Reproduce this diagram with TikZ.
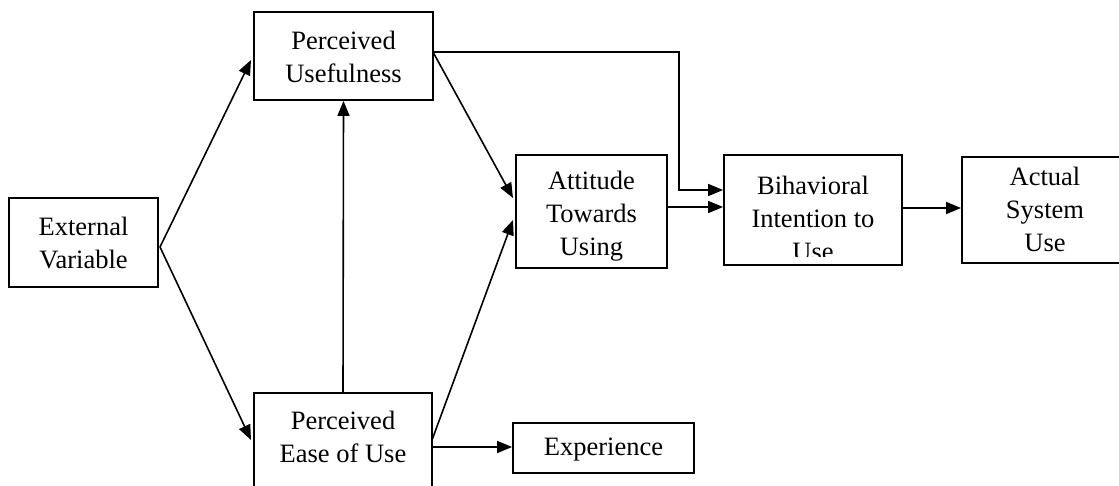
\documentclass[tikz,border=0pt]{standalone}
\usepackage{fontspec}
\setmainfont{Liberation Serif}
\usetikzlibrary{arrows.meta}
\begin{document}
\begin{tikzpicture}[x=1pt,y=-1pt,
  box/.style={draw=black,line width=1.8pt,inner sep=0pt,fill=none},
  txt/.style={align=center,font=\fontsize{26.5}{33}\selectfont,inner sep=0pt},
  conn/.style={draw=black,line width=1.6pt},
  arr/.style={conn,-{Triangle[length=15pt,width=12pt]}}]
\useasboundingbox (0,0) rectangle (1119,486);
\fill[white] (0,0) rectangle (1119,486);
% boxes
\node[box,minimum width=149pt,minimum height=89pt] (ext) at (83.5,242.5) {};
\node[box,minimum width=179pt,minimum height=88pt] (pu) at (343.5,56) {};
\node[box,minimum width=178pt,minimum height=110pt] (peu) at (343,448) {};
\node[box,minimum width=151pt,minimum height=113pt] (atu) at (591.5,211.5) {};
\node[box,minimum width=178pt,minimum height=110pt] (bi) at (813,210) {};
\node[box,minimum width=166pt,minimum height=106pt] (asu) at (1045,210) {};
\node[box,minimum width=181pt,minimum height=50pt] (exp) at (603.5,448) {};
% texts
\node[txt] (extT) at (83.5,243) {External\\Variable};
\node[txt] (puT) at (343.5,57) {Perceived\\Usefulness};
\node[txt] (peuT) at (343,437) {Perceived\\Ease of Use};
\node[txt] (atuT) at (591.5,216) {Attitude\\Towards\\Using};
\begin{scope}
\clip (bi.north west) rectangle (bi.east |- 0,257);
\node[txt] (biT) at (813,218) {Bihavioral\\Intention to\\Use};
\end{scope}
\node[txt] (asuT) at (1045,209) {Actual\\System\\Use};
\node[txt] (expT) at (603.5,450) {Experience};
% connector points
\coordinate (ev) at (160,247);
\coordinate (puIn) at (251,60);
\coordinate (peuIn) at (251,440);
\coordinate (puOut) at (433,52);
\coordinate (peuOut) at (432,440);
\coordinate (atuIn1) at (513,198);
\coordinate (atuIn2) at (513,220);
\coordinate (elbow) at (679,52);
% connectors
\draw[arr] (ev) -- (puIn);
\draw[arr] (ev) -- (peuIn);
\draw[arr] (peu.north) -- (pu.south);
\draw[arr] (puOut) -- (atuIn1);
\draw[arr] (peuOut) -- (atuIn2);
\draw[arr] (puOut) -- (elbow) -- (679,190) -- (bi.west |- 0,190);
\draw[arr] (atu.east |- 0,207) -- (bi.west |- 0,207);
\draw[arr] (bi.east |- 0,208) -- (asu.west |- 0,208);
\draw[arr] (peu.east |- 0,447) -- (exp.west |- 0,447);
\end{tikzpicture}
\end{document}
